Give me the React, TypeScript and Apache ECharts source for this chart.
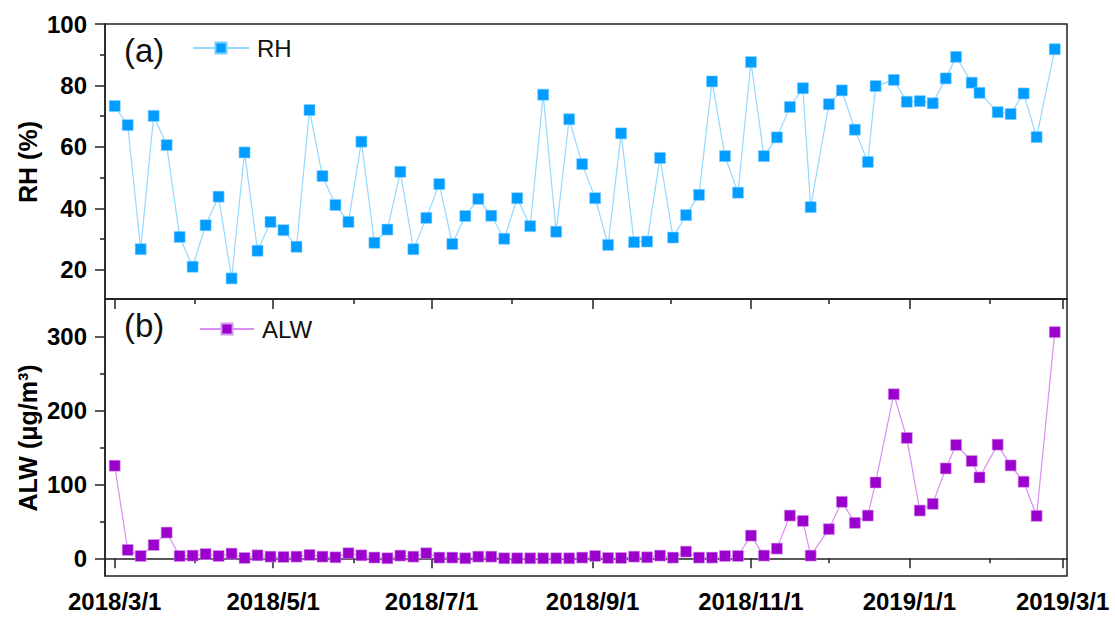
import React, { useEffect, useRef } from "react";
import * as echarts from "echarts";

const sampleDates = [
  "2018-03-01", "2018-03-06", "2018-03-11", "2018-03-16", "2018-03-21", "2018-03-26", "2018-03-31",
  "2018-04-05", "2018-04-10", "2018-04-15", "2018-04-20", "2018-04-25", "2018-04-30",
  "2018-05-05", "2018-05-10", "2018-05-15", "2018-05-20", "2018-05-25", "2018-05-30",
  "2018-06-04", "2018-06-09", "2018-06-14", "2018-06-19", "2018-06-24", "2018-06-29",
  "2018-07-04", "2018-07-09", "2018-07-14", "2018-07-19", "2018-07-24", "2018-07-29",
  "2018-08-03", "2018-08-08", "2018-08-13", "2018-08-18", "2018-08-23", "2018-08-28",
  "2018-09-02", "2018-09-07", "2018-09-12", "2018-09-17", "2018-09-22", "2018-09-27",
  "2018-10-02", "2018-10-07", "2018-10-12", "2018-10-17", "2018-10-22", "2018-10-27",
  "2018-11-01", "2018-11-06", "2018-11-11", "2018-11-16", "2018-11-21", "2018-11-24",
  "2018-12-01", "2018-12-06", "2018-12-11", "2018-12-16", "2018-12-19", "2018-12-26", "2018-12-31",
  "2019-01-05", "2019-01-10", "2019-01-15", "2019-01-19", "2019-01-25", "2019-01-28",
  "2019-02-04", "2019-02-09", "2019-02-14", "2019-02-19", "2019-02-26",
];

const rhValues = [
  73.3, 67.1, 26.7, 70.1, 60.6, 30.7, 21.0, 34.5, 43.8, 17.2,
  58.2, 26.2, 35.6, 32.9, 27.5, 72.0, 50.5, 41.1, 35.6, 61.7,
  28.8, 33.1, 51.9, 26.7, 36.9, 47.9, 28.4, 37.5, 43.1, 37.6,
  30.1, 43.3, 34.2, 77.0, 32.4, 69.0, 54.4, 43.3, 28.1, 64.4,
  29.0, 29.2, 56.4, 30.5, 37.8, 44.4, 81.3, 57.0, 45.1, 87.6,
  57.0, 63.1, 73.0, 79.1, 40.4, 73.9, 78.4, 65.6, 55.1, 79.8,
  81.8, 74.7, 74.9, 74.2, 82.3, 89.3, 80.9, 77.6, 71.3, 70.7,
  77.4, 63.2, 91.8,
];

const alwValues = [
  125.3, 11.3, 3.1, 18.0, 34.8, 3.1, 3.6, 5.8, 3.1, 6.3,
  0.4, 4.0, 2.2, 1.8, 2.2, 4.5, 2.2, 1.3, 6.8, 4.0,
  1.0, 0, 3.6, 2.2, 6.8, 0.9, 0.9, 0, 2.2, 2.2,
  0, 0, 0, 0, 0, 0, 0.9, 3.1, 0.4, 0.4,
  2.2, 1.3, 3.6, 0.9, 9.0, 0.9, 0.9, 3.1, 3.1, 30.7,
  3.6, 13.1, 57.8, 50.6, 3.6, 39.4, 76.4, 47.9, 57.8, 102.6,
  222.1, 162.9, 64.6, 73.7, 121.6, 153.4, 131.7, 109.4, 153.8, 125.7,
  103.6, 57.4, 306.2,
];

const majorDateTicks = ["2018-03-01", "2018-05-01", "2018-07-01", "2018-09-01", "2018-11-01", "2019-01-01", "2019-03-01"];
const minorDateTicks = ["2018-04-01", "2018-06-01", "2018-08-01", "2018-10-01", "2018-12-01", "2019-02-01"];

const rhMajorTicks = [20, 40, 60, 80, 100];
const rhMinorTicks = [30, 50, 70, 90];
const alwMajorTicks = [0, 100, 200, 300];
const alwMinorTicks = [50, 150, 250];

const DAY = 86400000;
const ts = (s: string) => {
  const [y, m, d] = s.split("-").map(Number);
  return new Date(y, m - 1, d).getTime();
};

const FONT = '"Liberation Sans", Arial, sans-serif';
const AXIS_COLOR = "#222";

export default function App() {
  const ref = useRef<HTMLDivElement>(null);

  useEffect(() => {
    if (!ref.current) return;
    const chart = echarts.init(ref.current, null, { renderer: "svg" });

    const xMin = ts("2018-03-01") - 3.74 * DAY;
    const xMax = ts("2019-03-01") + 1.7 * DAY;
    const fmtDate = (v: number) => {
      const d = new Date(v);
      return `${d.getFullYear()}/${d.getMonth() + 1}/${d.getDate()}`;
    };

    const majorTs = majorDateTicks.map(ts);
    const minorTs = minorDateTicks.map(ts);

    const xAxisBase = (gridIndex: number, ticks: number[], len: number, labels: boolean, line: boolean) => ({
      type: "value",
      gridIndex,
      min: xMin,
      max: xMax,
      position: "bottom",
      axisLine: { show: line, lineStyle: { color: AXIS_COLOR, width: 1.5 } },
      axisTick: { show: true, customValues: ticks, length: len, inside: false, lineStyle: { color: AXIS_COLOR, width: 1.5 } },
      axisLabel: labels
        ? {
            show: true,
            customValues: ticks,
            formatter: fmtDate,
            fontFamily: FONT,
            fontWeight: "bold",
            fontSize: 24,
            color: "#000",
            margin: 13,
            showMinLabel: true,
            showMaxLabel: true,
          }
        : { show: false },
      splitLine: { show: false },
    });

    const yAxisBase = (gridIndex: number, min: number, max: number, ticks: number[], len: number, labels: boolean, line: boolean) => ({
      type: "value",
      gridIndex,
      min,
      max,
      position: "left",
      axisLine: { show: line, lineStyle: { color: AXIS_COLOR, width: 1.5 } },
      axisTick: { show: true, customValues: ticks, length: len, inside: false, lineStyle: { color: AXIS_COLOR, width: 1.5 } },
      axisLabel: labels
        ? {
            show: true,
            customValues: ticks,
            fontFamily: FONT,
            fontWeight: "bold",
            fontSize: 24,
            color: "#000",
            margin: 18,
          }
        : { show: false },
      splitLine: { show: false },
    });

    const rhData = sampleDates.map((d, i) => [ts(d), rhValues[i]]);
    const alwData = sampleDates.map((d, i) => [ts(d), alwValues[i]]);

    chart.setOption({
      animation: false,
      backgroundColor: "#fff",
      grid: [
        { left: 105, top: 24, width: 962, height: 275, show: true, borderColor: AXIS_COLOR, borderWidth: 1.5, backgroundColor: "transparent" },
        { left: 105, top: 299, width: 962, height: 277, show: true, borderColor: AXIS_COLOR, borderWidth: 1.5, backgroundColor: "transparent" },
      ],
      xAxis: [
        xAxisBase(0, majorTs, 10, false, true),
        xAxisBase(0, minorTs, 5, false, false),
        xAxisBase(1, majorTs, 10, true, true),
        xAxisBase(1, minorTs, 5, false, false),
      ],
      yAxis: [
        yAxisBase(0, 10.5, 100, rhMajorTicks, 10, true, true),
        yAxisBase(0, 10.5, 100, rhMinorTicks, 5, false, false),
        yAxisBase(1, -24, 351, alwMajorTicks, 10, true, true),
        yAxisBase(1, -24, 351, alwMinorTicks, 5, false, false),
      ],
      legend: [
        {
          data: ["RH"],
          left: 192,
          top: 36,
          padding: 0,
          itemWidth: 56,
          itemHeight: 14,
          itemGap: 0,
          textStyle: { fontFamily: FONT, fontSize: 24, color: "#111", padding: [0, 0, 0, 3] },
        },
        {
          data: ["ALW"],
          left: 199,
          top: 317,
          padding: 0,
          itemWidth: 54,
          itemHeight: 14,
          itemGap: 0,
          textStyle: { fontFamily: FONT, fontSize: 24, color: "#111", padding: [0, 0, 0, 3] },
        },
      ],
      series: [
        {
          name: "RH",
          type: "line",
          xAxisIndex: 0,
          yAxisIndex: 0,
          data: rhData,
          symbol: "rect",
          symbolSize: 11,
          lineStyle: { color: "#95D8FF", width: 1.2 },
          itemStyle: { color: "#009CFF", borderColor: "#7FD0FF", borderWidth: 0.6 },
          z: 3,
        },
        {
          name: "ALW",
          type: "line",
          xAxisIndex: 2,
          yAxisIndex: 2,
          data: alwData,
          symbol: "rect",
          symbolSize: 11,
          lineStyle: { color: "#DB8EF2", width: 1.2 },
          itemStyle: { color: "#9B00CC", borderColor: "#D39BEA", borderWidth: 0.6 },
          z: 3,
        },
      ],
      graphic: [
        {
          type: "text",
          left: 124,
          top: 34,
          style: { text: "(a)", fontFamily: FONT, fontSize: 33, fill: "#111" },
        },
        {
          type: "text",
          left: 124,
          top: 309,
          style: { text: "(b)", fontFamily: FONT, fontSize: 33, fill: "#111" },
        },
        {
          type: "text",
          x: 28,
          y: 162,
          rotation: Math.PI / 2,
          style: { text: "RH (%)", fontFamily: FONT, fontSize: 25, fontWeight: "bold", fill: "#000", align: "center", verticalAlign: "middle" },
        },
        {
          type: "text",
          x: 28,
          y: 438,
          rotation: Math.PI / 2,
          style: { text: "ALW (μg/m³)", fontFamily: FONT, fontSize: 25, fontWeight: "bold", fill: "#000", align: "center", verticalAlign: "middle" },
        },
      ],
    });

    return () => chart.dispose();
  }, []);

  return <div ref={ref} style={{ position: "fixed", left: 0, top: 0, width: 1115, height: 619 }} />;
}
